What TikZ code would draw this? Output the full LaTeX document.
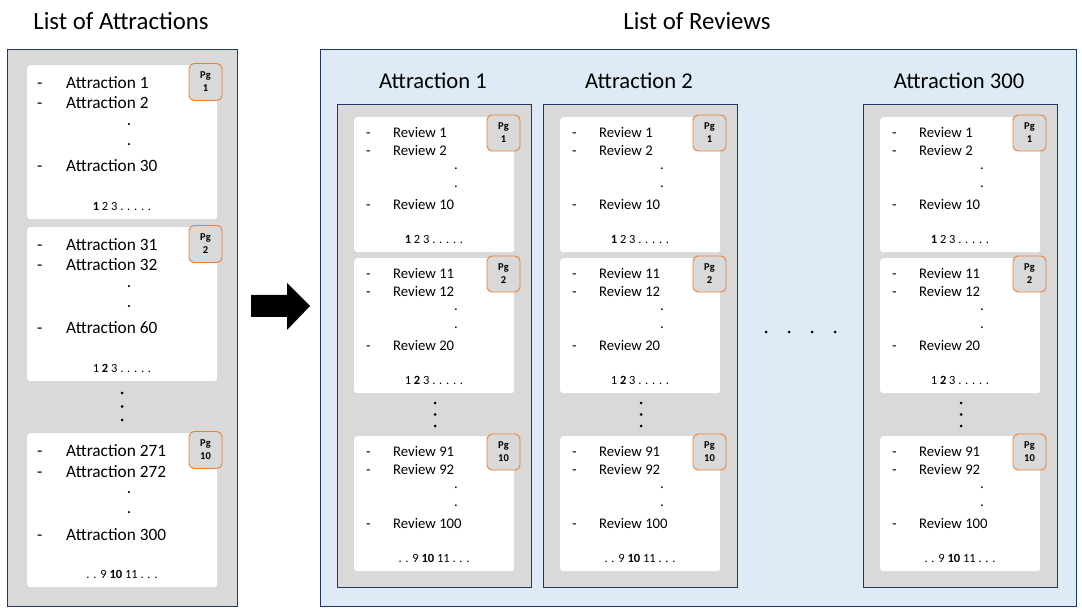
\documentclass[tikz,border=0pt]{standalone}
\usepackage{fontspec}
\setmainfont{Carlito}
\definecolor{navy}{HTML}{1F3864}
\definecolor{panelgray}{HTML}{D9D9D9}
\definecolor{lightblue}{HTML}{DEEBF7}
\definecolor{badgeorange}{HTML}{ED7D31}
\tikzset{
 panel/.style={draw=navy, line width=1pt},
 cardbox/.style={fill=white, rounded corners=3pt, inner sep=0pt, anchor=north west},
 badge/.style={fill=panelgray, draw=badgeorange, line width=0.9pt, rounded corners=5pt, inner sep=0pt, align=center, font=\bfseries\fontsize{10.5}{13}\selectfont},
 bigtitle/.style={font=\fontsize{24.8}{29}\selectfont, inner sep=0pt},
 coltitle/.style={font=\fontsize{22.6}{26}\selectfont, inner sep=0pt},
 attritem/.style={font=\fontsize{17.3}{20}\selectfont, anchor=base west, inner sep=0pt},
 revitem/.style={font=\fontsize{14.7}{17}\selectfont, anchor=base west, inner sep=0pt},
 attrdot/.style={font=\fontsize{17.3}{20}\selectfont, inner sep=0pt},
 revdot/.style={font=\fontsize{14.7}{17}\selectfont, inner sep=0pt},
 pageline/.style={font=\fontsize{12.5}{14}\selectfont, inner sep=0pt},
 dotmark/.style={circle, fill=black, inner sep=0pt, minimum size=3pt},
}
% #1 name, #2 top, #3 item1, #4 item2, #5 last item, #6 page line, #7 badge number
\newcommand\AttrCard[7]{%
 \node[cardbox, minimum width=190pt, minimum height=154pt] (#1) at (27,#2) {};
 \node[attritem] (#1-d1) at (37,#2+23.5) {-};
 \node[attritem] (#1-i1) at (66,#2+23.5) {#3};
 \node[attritem] (#1-d2) at (37,#2+44) {-};
 \node[attritem] (#1-i2) at (66,#2+44) {#4};
 \node[attrdot] (#1-p1) at (129,#2+60) {.};
 \node[attrdot] (#1-p2) at (129,#2+80) {.};
 \node[attritem] (#1-d3) at (37,#2+107) {-};
 \node[attritem] (#1-i3) at (66,#2+107) {#5};
 \node[pageline] (#1-pg) at (122,#2+141) {#6};
 \node[badge, minimum width=33pt, minimum height=37pt] (#1-b) at (205.5,#2+17) {Pg\\#7};
}
% #1 name, #2 column left, #3 top, #4 item1, #5 item2, #6 last, #7 page line, #8 badge number
\newcommand\RevCard[8]{%
 \node[cardbox, minimum width=160pt, minimum height=135pt] (#1) at (#2+17,#3) {};
 \node[revitem] (#1-d1) at (#2+29,#3+20.3) {-};
 \node[revitem] (#1-i1) at (#2+56,#3+20.3) {#4};
 \node[revitem] (#1-d2) at (#2+29,#3+38.3) {-};
 \node[revitem] (#1-i2) at (#2+56,#3+38.3) {#5};
 \node[revdot] (#1-p1) at (#2+119,#3+52) {.};
 \node[revdot] (#1-p2) at (#2+119,#3+70) {.};
 \node[revitem] (#1-d3) at (#2+29,#3+92.3) {-};
 \node[revitem] (#1-i3) at (#2+56,#3+92.3) {#6};
 \node[pageline] (#1-pg) at (#2+97,#3+122) {#7};
 \node[badge, minimum width=33pt, minimum height=36pt] (#1-b) at (#2+166.5,#3+16) {Pg\\#8};
}
% #1 name, #2 column left, #3 title
\newcommand\RevColumn[3]{%
 \node[coltitle] (#1-t) at (#2+96,81) {#3};
 \draw[panel, fill=panelgray, line width=0.8pt] (#2,104) rectangle (#2+194,587);
 \RevCard{#1-c1}{#2}{117}{Review 1}{Review 2}{Review 10}{\textbf{1} 2 3 . . . . .}{1}
 \RevCard{#1-c2}{#2}{258}{Review 11}{Review 12}{Review 20}{1 \textbf{2} 3 . . . . .}{2}
 \RevCard{#1-c3}{#2}{436}{Review 91}{Review 92}{Review 100}{. . 9 \textbf{10} 11 . . .}{10}
 \node[dotmark] (#1-v1) at (#2+98,403) {};
 \node[dotmark] (#1-v2) at (#2+98,414.5) {};
 \node[dotmark] (#1-v3) at (#2+98,426) {};
}
\begin{document}
\begin{tikzpicture}[x=1pt,y=-1pt]
\useasboundingbox (0,0) rectangle (1082,612);
% titles
\node[bigtitle] (t-left) at (121,21) {List of Attractions};
\node[bigtitle] (t-right) at (697,21) {List of Reviews};
% left panel
\draw[panel, fill=panelgray] (7,50) rectangle (237,606);
\AttrCard{a1}{65}{Attraction 1}{Attraction 2}{Attraction 30}{\textbf{1} 2 3 . . . . .}{1}
\AttrCard{a2}{227}{Attraction 31}{Attraction 32}{Attraction 60}{1 \textbf{2} 3 . . . . .}{2}
\AttrCard{a3}{433}{Attraction 271}{Attraction 272}{Attraction 300}{. . 9 \textbf{10} 11 . . .}{10}
\node[dotmark] (lv1) at (122,393) {};
\node[dotmark] (lv2) at (122,406.5) {};
\node[dotmark] (lv3) at (122,420) {};
% arrow
\fill[black] (251,295) -- (287,295) -- (287,283) -- (310,306) -- (287,330) -- (287,317) -- (251,317) -- cycle;
% right panel
\draw[panel, fill=lightblue] (320,50) rectangle (1076,606);
\RevColumn{r1}{337}{Attraction 1}
\RevColumn{r2}{543}{Attraction 2}
\RevColumn{r300}{863}{Attraction 300}
% ellipsis between columns
\node[dotmark] (h1) at (766,332) {};
\node[dotmark] (h2) at (789,332) {};
\node[dotmark] (h3) at (812,332) {};
\node[dotmark] (h4) at (835,332) {};
\end{tikzpicture}
\end{document}
